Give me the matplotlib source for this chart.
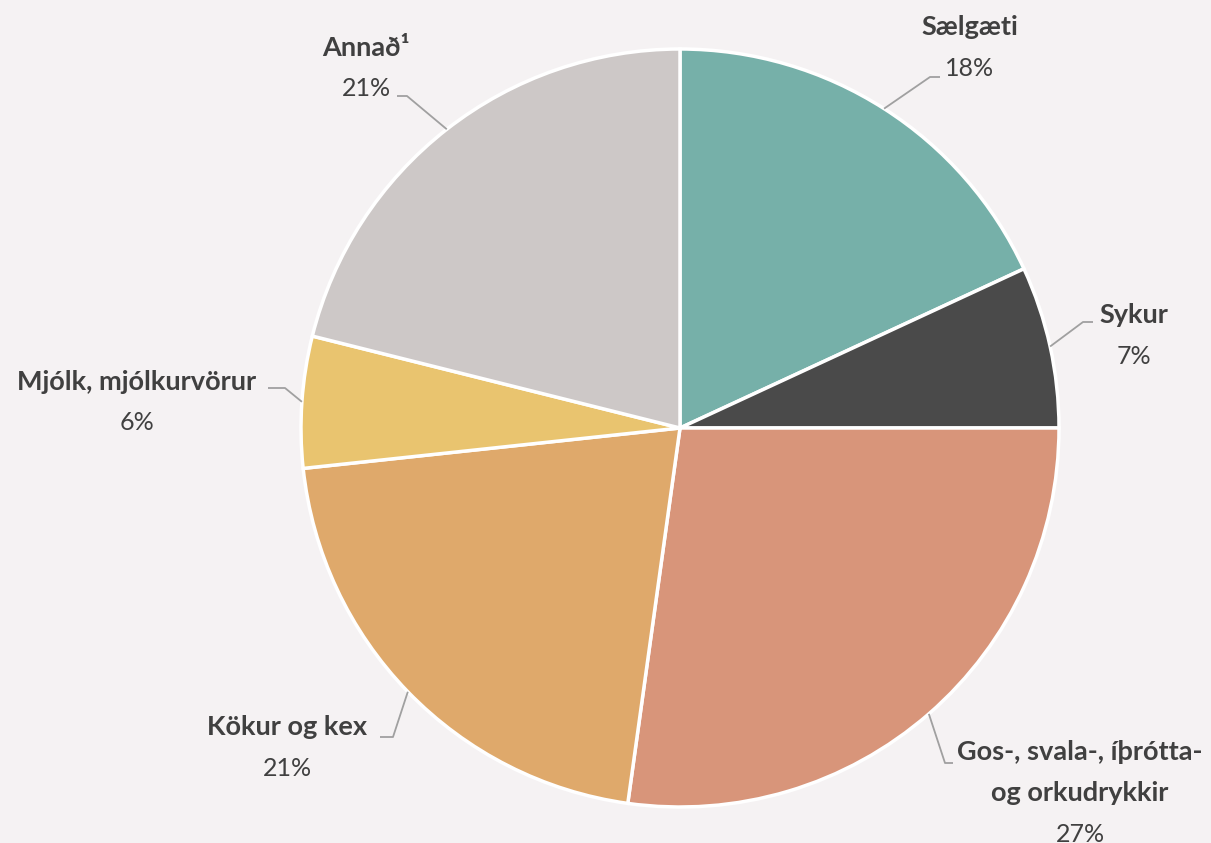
import matplotlib
matplotlib.use("Agg")
import matplotlib.pyplot as plt
import numpy as np

labels = ["Sælgæti", "Sykur", "Gos-, svala-, íþrótta-\nog orkudrykkir", "Kökur og kex",
          "Mjólk, mjólkurvörur", "Annað¹"]
values = [18.1, 6.9, 27.2, 21.1, 5.6, 21.1]
pct_labels = ["18%", "7%", "27%", "21%", "6%", "21%"]
colors = ["#76B0A9", "#4A4A4A", "#D8957A", "#DFA96B", "#E9C46F", "#CDC8C7"]

W, H = 1211, 843
BG = "#F5F2F3"
fig = plt.figure(figsize=(W / 100, H / 100), dpi=100, facecolor=BG)
ax = fig.add_axes([0, 0, 1, 1])
ax.set_facecolor(BG)

cx, cy, R = 680, H - 428, 379
wedges, _ = ax.pie(values, colors=colors, startangle=90, counterclock=False,
                   center=(cx, cy), radius=R,
                   wedgeprops=dict(edgecolor="white", linewidth=2.5))
ax.set_xlim(0, W)
ax.set_ylim(0, H)
ax.set_aspect("equal")
ax.axis("off")

# layout: (elbow x, elbow y, line end x, label x, first line y)
layout = [
    (930, 77, 940, 970, 27),
    (1083, 322, 1093, 1134, 315),
    (945, 763, 953, 1080, 752),
    (393, 737, 380, 287, 727),
    (285, 388, 268, 137, 382),
    (407, 96, 397, 366, 48),
]

txt_color = "#404040"
line_color = "#A0A0A0"
fam = ["Lato", "DejaVu Sans"]
for w, lab, pct, (ex, ey, lx, tx, ty) in zip(wedges, labels, pct_labels, layout):
    mid = np.deg2rad((w.theta1 + w.theta2) / 2)
    sx = cx + R * np.cos(mid)
    sy = cy + R * np.sin(mid)
    ax.plot([sx, ex, lx], [sy, H - ey, H - ey], color=line_color, lw=1.3,
            solid_capstyle="butt", zorder=3)
    lines = lab.split("\n")
    for i, ln in enumerate(lines):
        ax.text(tx, H - (ty + 41 * i), ln, ha="center", va="center", fontsize=19.5,
                fontweight="bold", family=fam, color=txt_color)
    py = ty + 41 * len(lines)
    ax.text(tx, H - py, pct, ha="center", va="center", fontsize=18,
            family=fam, color=txt_color)

fig.savefig("out.png", dpi=100, facecolor=BG)
